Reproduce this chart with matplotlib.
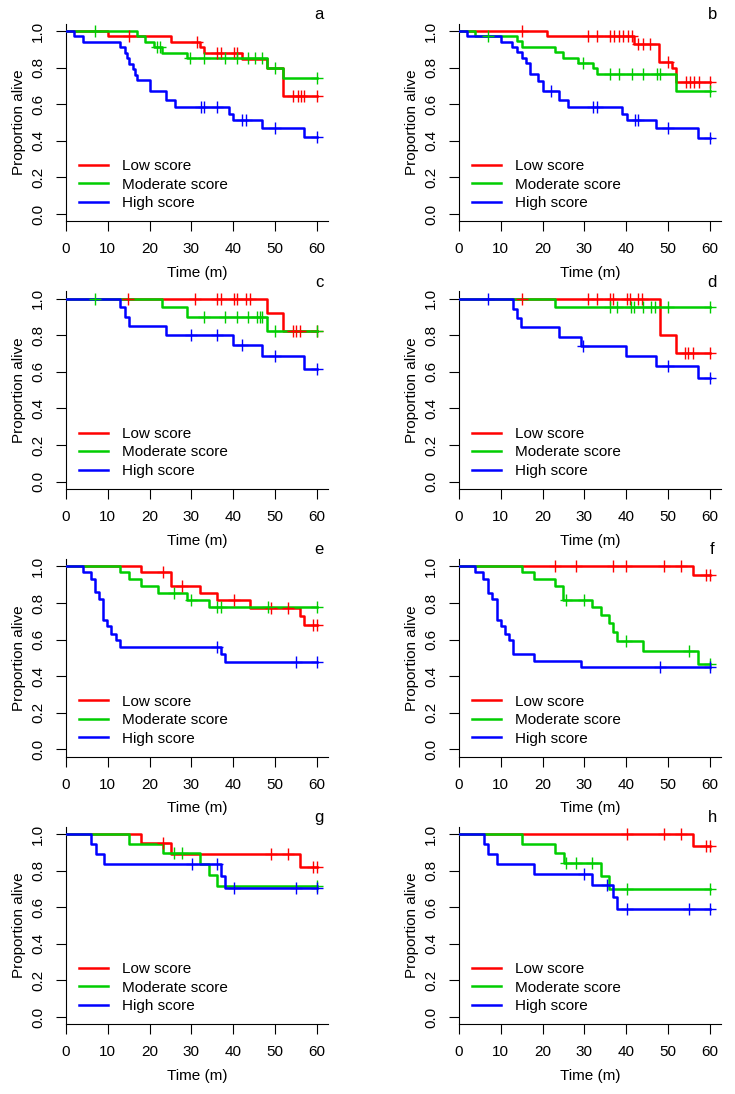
import numpy as np
import matplotlib
matplotlib.use("Agg")
import matplotlib.pyplot as plt
from matplotlib.lines import Line2D

plt.rcParams['font.family'] = ['Liberation Sans', 'DejaVu Sans']

# groups
group_labels = ["Low score", "Moderate score", "High score"]
group_colors = ["#FF0000", "#00CD00", "#0000FF"]

# panel a
a_low_t = [10, 25, 32, 33, 42, 48, 52]
a_low_s = [0.974, 0.94, 0.914, 0.882, 0.848, 0.80, 0.645]
a_low_c = [15, 31.3, 36.2, 37, 40.2, 41, 54.2, 55.4, 56.2, 57, 60]
a_mod_t = [17, 19, 21, 23, 29, 48, 52]
a_mod_s = [0.973, 0.941, 0.914, 0.882, 0.851, 0.796, 0.741]
a_mod_c = [7, 21.7, 22.5, 29.7, 33, 38, 40.8, 43.6, 45.2, 46.8, 50, 60]
a_high_t = [2, 4, 13, 14, 14.5, 15, 16, 16.5, 17, 20, 24, 26, 39, 40, 47, 57]
a_high_s = [0.973, 0.941, 0.911, 0.882, 0.851, 0.82, 0.79, 0.762, 0.732,
            0.674, 0.623, 0.587, 0.546, 0.514, 0.468, 0.42]
a_high_c = [32.2, 33, 36.1, 42.2, 43, 50, 60]

# panel b
b_low_t = [21, 41.8, 47.9, 51, 52]
b_low_s = [0.973, 0.929, 0.832, 0.80, 0.723]
b_low_c = [15, 30.9, 32.9, 36.1, 37.1, 38.2, 39.3, 40.5, 41.3, 42.9, 43.9,
           45.7, 50, 54.2, 55.3, 56.3, 57.3, 60]
b_mod_t = [3.8, 13.9, 15, 22.9, 24.9, 28.5, 32.1, 32.9, 52]
b_mod_s = [0.973, 0.944, 0.914, 0.883, 0.853, 0.826, 0.796, 0.766, 0.674]
b_mod_c = [7, 29.7, 36.1, 38.2, 41.3, 43.9, 47.3, 48.1, 60]
b_high_t = [1.8, 10, 12.6, 13.8, 15, 16, 17, 19, 20, 24, 26, 38.9, 40.1, 47.1, 57.1]
b_high_s = [0.973, 0.941, 0.914, 0.883, 0.853, 0.826, 0.766, 0.727, 0.674,
            0.623, 0.583, 0.546, 0.514, 0.468, 0.418]
b_high_c = [21.9, 32.1, 32.9, 42.1, 42.9, 50, 60]

# panel c
c_low_t = [48, 52]
c_low_s = [0.92, 0.823]
c_low_c = [14.9, 30.9, 36.1, 37, 40.2, 41, 43.1, 43.9, 54.2, 55, 56, 60]
c_mod_t = [23, 29, 48]
c_mod_s = [0.953, 0.9, 0.823]
c_mod_c = [6.9, 33, 38, 41, 43.6, 45.6, 46.3, 47, 50, 60]
c_high_t = [13, 14, 15, 24, 40, 47, 57]
c_high_s = [0.953, 0.9, 0.852, 0.80, 0.745, 0.685, 0.614]
c_high_c = [29.9, 36.1, 42.1, 50, 60]

# panel d
d_low_t = [48, 52]
d_low_s = [0.803, 0.703]
d_low_c = [15, 30.9, 32.9, 36.1, 36.9, 40.1, 40.9, 42.9, 43.7, 54, 54.8, 55.9, 60]
d_mod_t = [23]
d_mod_s = [0.955]
d_mod_c = [36.1, 37.9, 41.1, 41.9, 43.9, 45.9, 46.9, 49.9, 60]
d_high_t = [13, 13.8, 14.9, 24, 29.1, 40, 47.1, 57.1]
d_high_s = [0.946, 0.894, 0.843, 0.79, 0.739, 0.685, 0.63, 0.567]
d_high_c = [7, 29.7, 49.9, 60]

# panel e
e_low_t = [18, 25, 32, 36.1, 44, 56, 57]
e_low_s = [0.969, 0.895, 0.855, 0.814, 0.772, 0.727, 0.678]
e_low_c = [23.1, 27.7, 40.1, 49, 53.1, 59.2, 60]
e_mod_t = [13, 15, 18, 22, 29, 34.1]
e_mod_s = [0.969, 0.933, 0.891, 0.855, 0.814, 0.776]
e_mod_c = [25.8, 29.9, 36.1, 37, 48.2, 60]
e_high_t = [4, 6, 6.9, 8, 8.8, 9.7, 10.8, 11.9, 12.9, 37, 38.1]
e_high_s = [0.969, 0.933, 0.858, 0.822, 0.709, 0.676, 0.632, 0.6, 0.56, 0.521, 0.478]
e_high_c = [36.1, 55, 60]

# panel f
f_low_t = [56]
f_low_s = [0.951]
f_low_c = [23, 27.9, 36.9, 39.9, 49.1, 53.1, 59, 60]
f_mod_t = [15, 18, 23, 24.9, 31.9, 33.9, 35.9, 36.9, 37.9, 43.9, 57.1]
f_mod_s = [0.969, 0.931, 0.891, 0.818, 0.777, 0.736, 0.691, 0.641, 0.594, 0.536, 0.468]
f_mod_c = [25.7, 30, 39.9, 55.1, 60]
f_high_t = [3.8, 5.8, 7, 8, 9, 10, 11, 12, 12.8, 18, 29.2]
f_high_s = [0.969, 0.931, 0.855, 0.822, 0.709, 0.672, 0.632, 0.596, 0.523, 0.485, 0.448]
f_high_c = [48.1, 60]

# panel g
g_low_t = [18, 25, 56]
g_low_s = [0.953, 0.894, 0.821]
g_low_c = [23.1, 49.1, 53.1, 59.2, 60]
g_mod_t = [15, 23.1, 32.1, 34.1, 36.1]
g_mod_s = [0.948, 0.898, 0.834, 0.776, 0.716]
g_mod_c = [25.8, 27.7, 60]
g_high_t = [6, 7.1, 9.1, 37, 38.1]
g_high_s = [0.945, 0.891, 0.834, 0.772, 0.707]
g_high_c = [30.1, 36.1, 40.2, 55, 60]

# panel h
h_low_t = [56]
h_low_s = [0.936]
h_low_c = [40.1, 49.1, 53.1, 59, 60]
h_mod_t = [15, 23, 25, 33.9, 35.9]
h_mod_s = [0.948, 0.898, 0.84, 0.772, 0.698]
h_mod_c = [25.7, 27.9, 31.9, 40.1, 60]
h_high_t = [6, 7, 9, 18, 31.9, 36.9, 37.9]
h_high_s = [0.945, 0.891, 0.836, 0.781, 0.721, 0.654, 0.588]
h_high_c = [30, 35.5, 40.1, 55.1, 60]

panels = [
    ("a", [(a_low_t, a_low_s, a_low_c), (a_mod_t, a_mod_s, a_mod_c), (a_high_t, a_high_s, a_high_c)]),
    ("b", [(b_low_t, b_low_s, b_low_c), (b_mod_t, b_mod_s, b_mod_c), (b_high_t, b_high_s, b_high_c)]),
    ("c", [(c_low_t, c_low_s, c_low_c), (c_mod_t, c_mod_s, c_mod_c), (c_high_t, c_high_s, c_high_c)]),
    ("d", [(d_low_t, d_low_s, d_low_c), (d_mod_t, d_mod_s, d_mod_c), (d_high_t, d_high_s, d_high_c)]),
    ("e", [(e_low_t, e_low_s, e_low_c), (e_mod_t, e_mod_s, e_mod_c), (e_high_t, e_high_s, e_high_c)]),
    ("f", [(f_low_t, f_low_s, f_low_c), (f_mod_t, f_mod_s, f_mod_c), (f_high_t, f_high_s, f_high_c)]),
    ("g", [(g_low_t, g_low_s, g_low_c), (g_mod_t, g_mod_s, g_mod_c), (g_high_t, g_high_s, g_high_c)]),
    ("h", [(h_low_t, h_low_s, h_low_c), (h_mod_t, h_mod_s, h_mod_c), (h_high_t, h_high_s, h_high_c)]),
]


def km_curve(ax, times, surv, cens, color):
    end = max(max(cens), times[-1])
    t = [0] + list(times) + [end]
    s = [1.0] + list(surv) + [surv[-1]]
    ax.step(t, s, where="post", color=color, lw=1.8, zorder=3)
    levels = np.array([1.0] + list(surv))
    idx = np.searchsorted(np.array(times), cens, side="right")
    ax.plot(cens, levels[idx], linestyle="none", marker="+", ms=8, mew=1.0,
            color=color, zorder=4)


W, H = 735, 1094
fig = plt.figure(figsize=(W / 100, H / 100), dpi=100)

col_x = [66, 459]
ax_w = 261.7
ax_h = 197.6
row_top = 23.7
row_step = 267.7

for i, (letter, groups) in enumerate(panels):
    r, c = divmod(i, 2)
    top = row_top + r * row_step
    ax = fig.add_axes([col_x[c] / W, 1 - (top + ax_h) / H, ax_w / W, ax_h / H])
    for (t, s, cc), col in zip(groups, group_colors):
        km_curve(ax, t, s, cc, col)

    ax.set_xlim(0, 62.6)
    ax.set_ylim(-0.04, 1.04)
    ax.set_xticks(range(0, 61, 10))
    ax.set_yticks([0, 0.2, 0.4, 0.6, 0.8, 1.0])
    ax.set_yticklabels(["0.0", "0.2", "0.4", "0.6", "0.8", "1.0"], rotation=90, va="center")
    ax.spines["top"].set_visible(False)
    ax.spines["right"].set_visible(False)
    for sp in ("left", "bottom"):
        ax.spines[sp].set_linewidth(0.8)
    ax.tick_params(direction="out", length=7, width=0.8, labelsize=11, pad=8)
    ax.set_xlabel("Time (m)", fontsize=11, labelpad=7)
    ax.set_ylabel("Proportion alive", fontsize=11, labelpad=4)

    ax.text(60.6, 1.09, letter, fontsize=12, ha="center", va="center", clip_on=False)

    handles = [Line2D([0], [0], color=col, lw=1.8) for col in group_colors]
    ax.legend(handles, group_labels, loc="center left", bbox_to_anchor=(0.05, 0.185),
              frameon=False, fontsize=11, handlelength=1.9, handletextpad=0.9,
              labelspacing=0.3, borderpad=0, borderaxespad=0)

fig.savefig("out.png", dpi=100)
